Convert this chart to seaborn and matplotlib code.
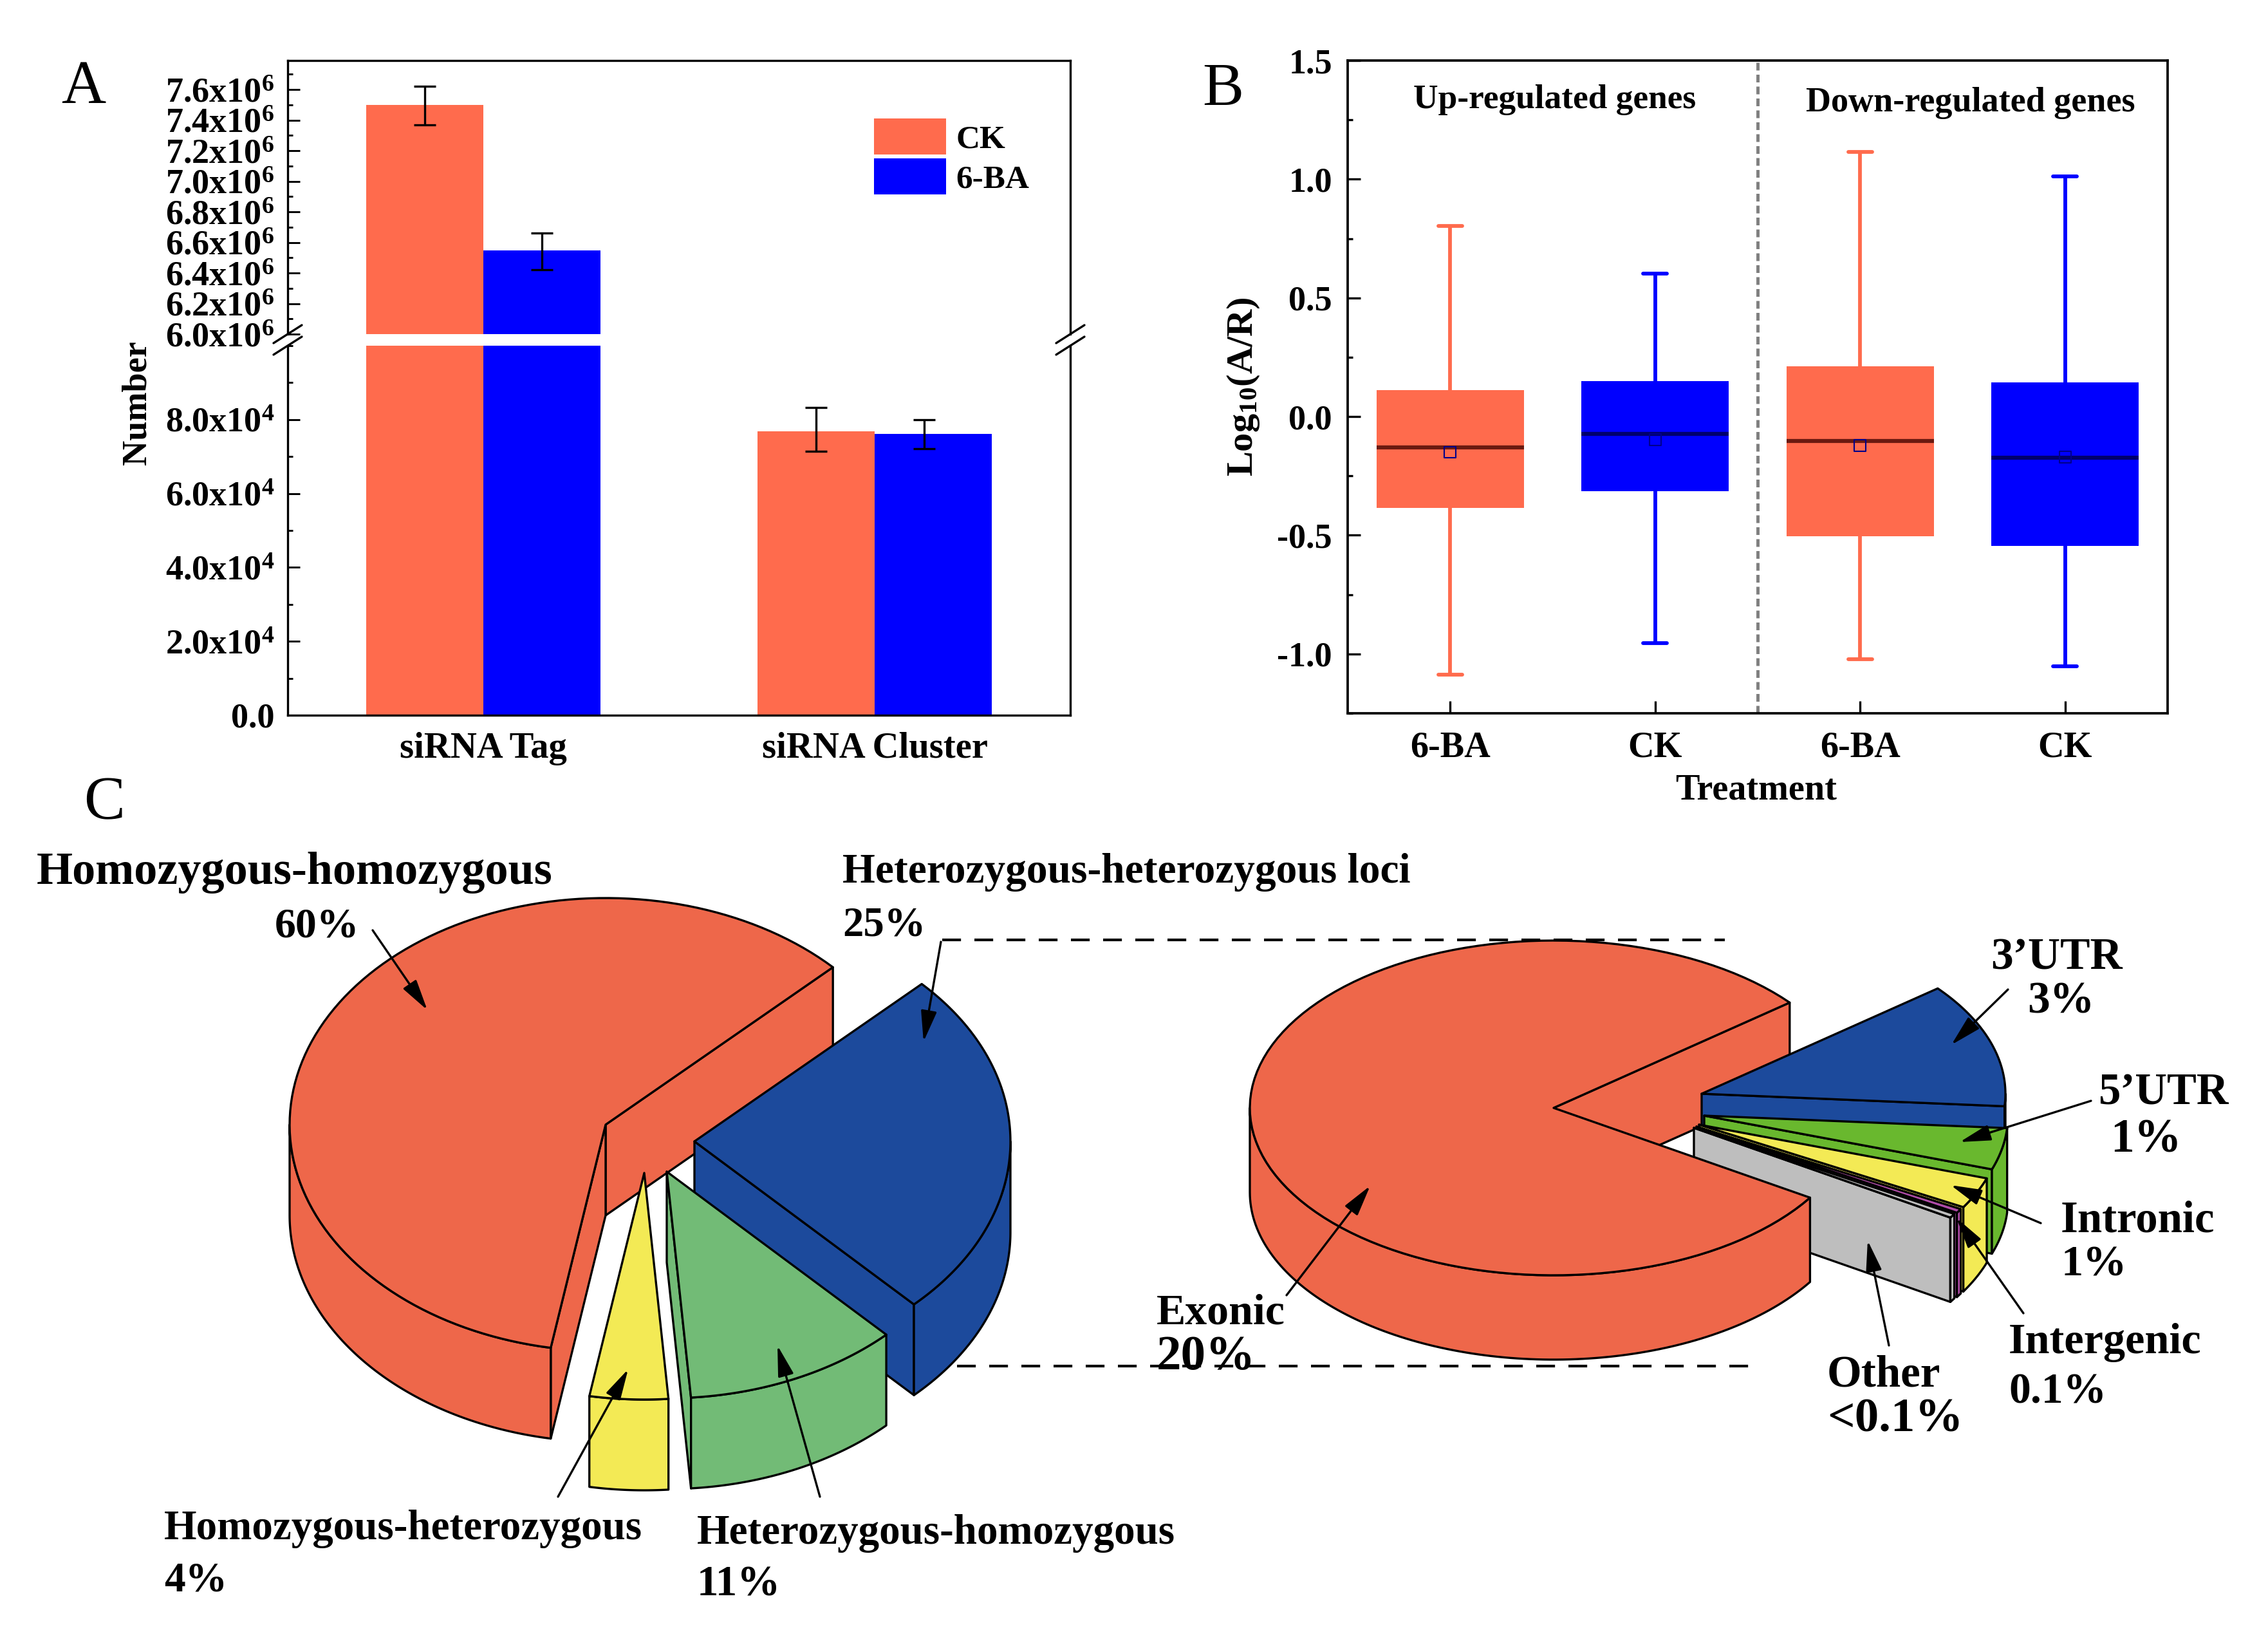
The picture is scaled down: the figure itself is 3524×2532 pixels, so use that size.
import numpy as np
import pandas as pd
import matplotlib
matplotlib.use("Agg")
import matplotlib.pyplot as plt
from matplotlib.patches import Polygon
from matplotlib.ticker import MultipleLocator
import seaborn as sns

sns.set_style("ticks")
plt.rcParams['font.family'] = ['Liberation Serif', 'DejaVu Serif']
plt.rcParams['font.weight'] = 'bold'
plt.rcParams['axes.labelweight'] = 'bold'
plt.rcParams['mathtext.fontset'] = 'custom'
plt.rcParams['mathtext.rm'] = 'Liberation Serif:bold'
plt.rcParams['mathtext.default'] = 'rm'
for key in ['text.color', 'axes.labelcolor', 'axes.edgecolor', 'xtick.color', 'ytick.color']:
    plt.rcParams[key] = 'black'

# panel A
bar_categories = ['siRNA Tag', 'siRNA Cluster']
bar_treatments = ['CK', '6-BA']
ck_values = [7.50e6, 7.68e4]
ba_values = [6.547e6, 7.61e4]
ck_err_low = [7.37e6, 7.15e4]
ck_err_high = [7.62e6, 8.32e4]
ba_err_low = [6.42e6, 7.22e4]
ba_err_high = [6.66e6, 8.00e4]
upper_ticks = [6.0e6, 6.2e6, 6.4e6, 6.6e6, 6.8e6, 7.0e6, 7.2e6, 7.4e6, 7.6e6]
upper_labels = ['6.0x10$^{6}$', '6.2x10$^{6}$', '6.4x10$^{6}$', '6.6x10$^{6}$', '6.8x10$^{6}$',
                '7.0x10$^{6}$', '7.2x10$^{6}$', '7.4x10$^{6}$', '7.6x10$^{6}$']
lower_ticks = [0, 2e4, 4e4, 6e4, 8e4]
lower_labels = ['0.0', '2.0x10$^{4}$', '4.0x10$^{4}$', '6.0x10$^{4}$', '8.0x10$^{4}$']

# panel B
box_groups = ['up 6-BA', 'up CK', 'down 6-BA', 'down CK']
box_labels = ['6-BA', 'CK', '6-BA', 'CK']
whisker_low = [-1.087, -0.955, -1.022, -1.051]
quartile_1 = [-0.384, -0.314, -0.505, -0.544]
medians = [-0.130, -0.072, -0.103, -0.173]
quartile_3 = [0.112, 0.150, 0.211, 0.144]
whisker_high = [0.804, 0.602, 1.114, 1.013]
means = [-0.150, -0.097, -0.121, -0.171]
b_ticks = [-1.0, -0.5, 0.0, 0.5, 1.0, 1.5]
b_tick_labels = ['-1.0', '-0.5', '0.0', '0.5', '1.0', '1.5']

# panel C, both pies listed counter-clockwise
left_names = ['Homozygous-homozygous', 'Homozygous-heterozygous', 'Heterozygous-homozygous', 'Heterozygous-heterozygous loci']
left_shares = [60, 4, 11, 25]
right_names = ['Exonic', 'Other', 'Intergenic', 'Intronic', '5’UTR', '3’UTR']
right_shares = [20, 0.1, 0.1, 0.75, 1, 3]

CK_COLOR = '#FF6B4D'
BA_COLOR = '#0000FF'
LEFT_COLORS = ['#EE674A', '#F3EA55', '#72BB76', '#1C4A9C']
RIGHT_COLORS = ['#EE674A', '#BEBEBE', '#B04CA8', '#F3EA55', '#69B82E', '#1C4A9C']

W, H = 3524, 2532
fig = plt.figure(figsize=(W / 300, H / 300), dpi=300, facecolor='white')


def axes_px(left, top, right, bottom):
    return fig.add_axes([left / W, 1 - bottom / H, (right - left) / W, (bottom - top) / H])


# ---- panel A: bars with a broken y axis
df_bar = pd.DataFrame({
    'category': bar_categories * 2,
    'treatment': ['CK'] * 2 + ['6-BA'] * 2,
    'value': ck_values + ba_values,
})
ax_top = axes_px(447, 94, 1663, 519)
ax_low = axes_px(447, 537, 1663, 1111)
for ax in [ax_top, ax_low]:
    sns.barplot(data=df_bar, x='category', y='value', hue='treatment', hue_order=bar_treatments,
                palette=[CK_COLOR, BA_COLOR], width=0.6, gap=0, errorbar=None, saturation=1,
                linewidth=0, ax=ax)
    for i, (offset_ck, offset_ba) in enumerate([(-0.15, 0.15), (-0.15, 0.126)]):
        for x, val, lo, hi in [(i + offset_ck, ck_values[i], ck_err_low[i], ck_err_high[i]),
                               (i + offset_ba, ba_values[i], ba_err_low[i], ba_err_high[i])]:
            ax.errorbar(x, val, yerr=[[val - lo], [hi - val]], color='black', lw=0.8,
                        capsize=4, capthick=0.8, zorder=5)
    ax.set_xlim(-0.5, 1.5)
    ax.set_xlabel('')
    ax.set_ylabel('')
    for s in ax.spines.values():
        s.set_linewidth(0.8)
    ax.tick_params(axis='y', which='major', direction='in', length=4.6, width=0.7, labelsize=13, pad=5)
    ax.tick_params(axis='y', which='minor', direction='in', length=2, width=0.7)

ax_top.set_ylim(6.0e6, 7.79e6)
ax_top.set_yticks(upper_ticks)
ax_top.set_yticklabels(upper_labels)
ax_top.yaxis.set_minor_locator(MultipleLocator(1e5))
ax_top.spines['bottom'].set_visible(False)
ax_top.tick_params(axis='x', length=0, labelbottom=False)
sns.move_legend(ax_top, loc='upper left', bbox_to_anchor=(1358 / W, 1 - 184 / H), bbox_transform=fig.transFigure,
                title=None, frameon=False, fontsize=12.3, handlelength=2.19, handleheight=1.3, labelspacing=0.12,
                borderpad=0, borderaxespad=0, handletextpad=0.3)

ax_low.set_ylim(0, 1e5)
ax_low.set_yticks(lower_ticks)
ax_low.set_yticklabels(lower_labels)
ax_low.yaxis.set_minor_locator(MultipleLocator(1e4))
ax_low.spines['top'].set_visible(False)
ax_low.legend_.remove()
ax_low.tick_params(axis='x', length=0, labelsize=13.6, pad=6.2)

# ---- panel B: box plot
df_box = pd.DataFrame({
    'group': np.repeat(box_groups, 5),
    'value': np.array([whisker_low, quartile_1, medians, quartile_3, whisker_high]).T.ravel(),
})
box_colors = [CK_COLOR, BA_COLOR, CK_COLOR, BA_COLOR]
median_colors = ['#6B1A10', '#00006B', '#6B1A10', '#00006B']
ax_b = axes_px(2094, 94, 3368, 1108)
sns.boxplot(data=df_box, x='group', y='value', hue='group', order=box_groups, hue_order=box_groups,
            palette=box_colors, dodge=False, width=0.72, whis=(0, 100), saturation=1, linewidth=1.4,
            capwidths=0.115, legend=False, ax=ax_b, medianprops={'linewidth': 1.5})
for cont, col, med_col in zip(ax_b.containers, box_colors, median_colors):
    for artist in list(cont.whiskers) + list(cont.caps):
        artist.set_color(col)
    for artist in cont.medians:
        artist.set_color(med_col)
    for artist in cont.boxes:
        artist.set_edgecolor(col)
        artist.set_linewidth(0)
sns.scatterplot(x=list(range(4)), y=means, marker='s', s=18, color='#00008B', edgecolor='#00008B',
                linewidth=0.5, zorder=6, legend=False, ax=ax_b)
ax_b.collections[-1].set_facecolor('none')
ax_b.axvline(1.5, color='#808080', lw=1.2, ls=(0, (2.4, 1.3)))
ax_b.set_xlim(-0.5, 3.5)
ax_b.set_ylim(-1.25, 1.5)
ax_b.set_yticks(b_ticks)
ax_b.set_yticklabels(b_tick_labels)
ax_b.yaxis.set_minor_locator(MultipleLocator(0.25))
ax_b.set_xticks(range(4))
ax_b.set_xticklabels(box_labels)
ax_b.set_xlabel('')
ax_b.set_ylabel('')
for s in ax_b.spines.values():
    s.set_linewidth(0.9)
ax_b.tick_params(axis='y', which='major', direction='in', length=4.8, width=0.8, labelsize=13, pad=5.8)
ax_b.tick_params(axis='y', which='minor', direction='in', length=2, width=0.8)
ax_b.tick_params(axis='x', direction='in', length=4.6, width=0.8, labelsize=13.5, pad=6.5)

# ---- overlay in pixel coordinates for panel C and the free text
ov = fig.add_axes([0, 0, 1, 1], facecolor='none')
ov.set_xlim(0, W)
ov.set_ylim(H, 0)
ov.axis('off')


def label(x, y, s, size, ha='left', va='center', **kw):
    ov.text(x, y, s, fontsize=size, ha=ha, va=va, **kw)


def arrow(x0, y0, x1, y1):
    ov.annotate('', xy=(x1, y1), xytext=(x0, y0), zorder=20,
                arrowprops=dict(arrowstyle='-|>,head_length=0.7,head_width=0.18', mutation_scale=14,
                                color='black', lw=0.8, shrinkA=0, shrinkB=0))


def rim(tip, rx, ry, a0, a1, n=120):
    ang = np.radians(np.linspace(a0, a1, n))
    return np.column_stack([tip[0] + rx * np.cos(ang), tip[1] - ry * np.sin(ang)])


def shape(pts, color, z):
    ov.add_patch(Polygon(pts, closed=True, facecolor=color, edgecolor='black', lw=0.8,
                         joinstyle='round', zorder=z))


def draw_slice(tip, rx, ry, depth, a0, a1, color, z, parts=('start', 'end', 'arc', 'top')):
    tip = np.array(tip, dtype=float)
    down = np.array([0, depth])
    if 'start' in parts and np.cos(np.radians(a0)) > 0:
        p = rim(tip, rx, ry, a0, a0, 1)[0]
        shape([tip, p, p + down, tip + down], color, z)
    if 'end' in parts and np.cos(np.radians(a1)) < 0:
        p = rim(tip, rx, ry, a1, a1, 1)[0]
        shape([tip, p, p + down, tip + down], color, z)
    if 'arc' in parts:
        for lo, hi in [(180, 360), (540, 720)]:
            b0, b1 = max(a0, lo), min(a1, hi)
            if b1 > b0:
                edge = rim(tip, rx, ry, b0, b1)
                shape(np.vstack([edge, edge[::-1] + down]), color, z)
    if 'top' in parts:
        shape(np.vstack([tip, rim(tip, rx, ry, a0, a1)]), color, z)


def slice_angles(shares, start):
    sweep = np.array(shares, dtype=float) / np.sum(shares) * 360
    ends = start + np.cumsum(sweep)
    return np.concatenate([[start], ends[:-1]]), ends


# left pie starts from the cut at 44 degrees
a0s, a1s = slice_angles(left_shares, 44)
left_tips = [(941, 1747), (1001, 1822), (1036, 1820), (1079, 1773)]
for z, i in enumerate([0, 3, 2, 1]):
    draw_slice(left_tips[i], 491, 352, 141, a0s[i], a1s[i], LEFT_COLORS[i], 2 + z)

# right pie: exonic cut face sits behind the small slices, its top in front
a0s, a1s = slice_angles(right_shares, 39)
right_tips = [(2414, 1721), (2632, 1752), (2636, 1750), (2640, 1747), (2648, 1733), (2644, 1699)]
draw_slice(right_tips[0], 472, 260, 131, a0s[0], a1s[0], RIGHT_COLORS[0], 2, parts=('start',))
for z, i in enumerate([5, 4, 3, 2, 1]):
    draw_slice(right_tips[i], 472, 260, 131, a0s[i], a1s[i], RIGHT_COLORS[i], 3 + z)
draw_slice(right_tips[0], 472, 260, 131, a0s[0], a1s[0], RIGHT_COLORS[0], 9, parts=('end', 'arc', 'top'))

for x0, x1, y in [(1464, 2680, 1460), (1487, 2728, 2122)]:
    ov.plot([x0, x1], [y, y], color='black', lw=1.0, ls=(0, (7, 5)), zorder=15)

arrow(579, 1445, 664, 1569)
arrow(1462, 1463, 1435, 1618)
arrow(867, 2325, 976, 2127)
arrow(1274, 2325, 1208, 2090)
arrow(3120, 1537, 3032, 1623)
arrow(3249, 1710, 3045, 1774)
arrow(3171, 1900, 3031, 1841)
arrow(3144, 2040, 3040, 1892)
arrow(2935, 2090, 2902, 1927)
arrow(1999, 2012, 2129, 1842)

# panel letters
label(95, 160, 'A', 23, va='baseline', fontweight='normal')
label(1868, 164, 'B', 23, va='baseline', fontweight='normal')
label(130, 1272, 'C', 23, va='baseline', fontweight='normal')

# axis titles and headings
label(213, 626, 'Number', 13, ha='center', rotation=90)
label(1932, 601, 'Log$_{10}$(A/R)', 14, ha='center', rotation=90)
label(2729, 1227, 'Treatment', 13.5, ha='center')
label(2416, 155, 'Up-regulated genes', 12.8, ha='center')
label(3062, 160, 'Down-regulated genes', 13, ha='center')

# pie labels
label(57, 1355, left_names[0], 17.3)
label(427, 1440, '60%', 15.8)
label(1309, 1355, left_names[3], 15.7)
label(1309, 1437, '25%', 15.5)
label(255, 2375, left_names[1], 15.6)
label(255, 2456, '4%', 15.7)
label(1083, 2382, left_names[2], 15.6)
label(1083, 2462, '11%', 16.1)
label(1797, 2040, right_names[0], 16.3)
label(1797, 2108, '20%', 18.5)
label(3093, 1489, right_names[5], 16.7)
label(3150, 1556, '3%', 16.7)
label(3260, 1699, right_names[4], 16.5)
label(3279, 1772, '1%', 17.7)
label(3202, 1896, right_names[3], 16.5)
label(3202, 1965, '1%', 16.4)
label(3121, 2086, right_names[2], 16.4)
label(3121, 2163, '0.1%', 16.2)
label(2839, 2136, right_names[1], 16.6)
label(2839, 2206, '<0.1%', 18)

# axis break marks
for x in [447, 1663]:
    for y in [519, 537]:
        ov.plot([x - 22, x + 22], [y + 14, y - 14], color='black', lw=0.8, zorder=15)

fig.savefig('out.png', dpi=300)
